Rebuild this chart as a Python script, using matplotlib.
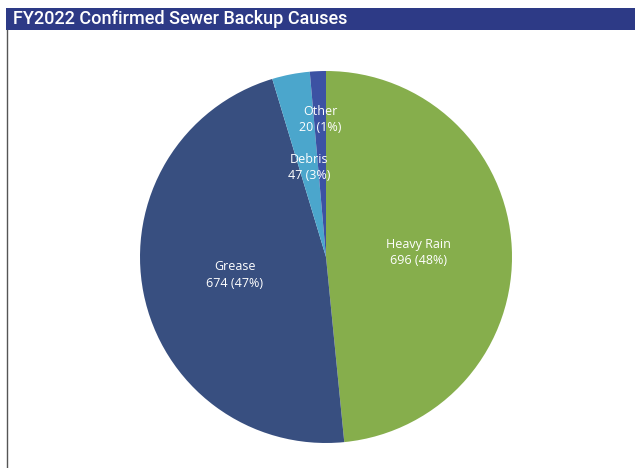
import numpy as np
import matplotlib.pyplot as plt
from matplotlib.patches import Rectangle

# DATA
causes = ["Heavy Rain", "Grease", "Debris", "Other"]
counts = [696, 674, 47, 20]
colors = ["#86ae4c", "#384f80", "#4ba6cc", "#3c52a3"]
label_dist = [0.50, 0.50, 0.49, 0.74]

W, H = 635, 468
fig = plt.figure(figsize=(W/100, H/100), dpi=100)

# title bar + frame
fig.patches.append(Rectangle((6/W, 1-30/H), 1-6/W, 22/H, transform=fig.transFigure,
                             facecolor="#2d3a86", edgecolor="none"))
fig.add_artist(plt.Line2D([7/W, 7/W], [0, 1-30/H], color="#555555", lw=1))
fig.text(13/W, 1-19.5/H, "FY2022 Confirmed Sewer Backup Causes", color="white",
         fontsize=13, fontfamily="Roboto", fontweight="medium", va="center")

cx, cy, r = 326, 257, 186
ax = fig.add_axes([(cx-r)/W, 1-(cy+r)/H, 2*r/W, 2*r/H])
wedges, _ = ax.pie(counts, colors=colors, startangle=90, counterclock=False, radius=1,
                   wedgeprops=dict(linewidth=0))
ax.set_xlim(-1, 1)
ax.set_ylim(-1, 1)
ax.axis("off")

total = sum(counts)
for w, name, n, d in zip(wedges, causes, counts, label_dist):
    ang = np.deg2rad((w.theta1 + w.theta2) / 2)
    x, y = d*np.cos(ang), d*np.sin(ang)
    ax.text(x, y, f"{name}\n{n} ({round(100*n/total)}%)", ha="center", va="center",
            color="white", fontsize=9, fontfamily="Open Sans", linespacing=1.35)

fig.savefig("out.png", dpi=100)
